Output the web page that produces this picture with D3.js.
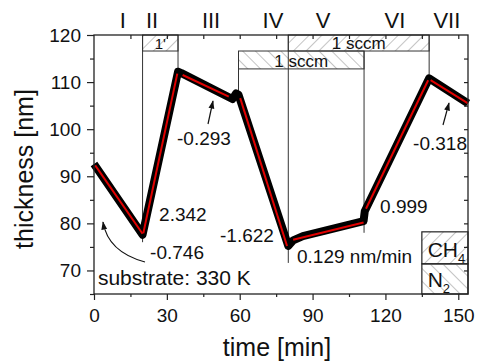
<!DOCTYPE html>
<html lang="en">
<head>
<meta charset="utf-8">
<style>
  body { margin: 0; background: #fff; }
  svg { display: block; font-family: Arial, "Liberation Sans", sans-serif; }
</style>
</head>
<body>
<svg width="481" height="363"></svg>
<script src="https://cdn.jsdelivr.net/npm/d3@7"></script>
<script>
// measured thickness curve, [time min, thickness nm]
var measured = [
  [0, 92.6], [20, 77.6], [34.6, 112.2], [36, 111.9], [57, 106.4], [58.5, 107.6],
  [59.5, 107.3], [80, 75.2], [82, 76.4], [86, 77.3], [111, 80.5], [111.5, 82.6],
  [138, 110.8], [154, 105.5]
]

// linear fits, each [t0, v0, t1, v1]
var fits = [
  [0.5, 92.3, 20, 77.8],
  [20.3, 77.9, 34.3, 111.8],
  [36.5, 111.5, 55.5, 106.9],
  [60.2, 106.6, 79.5, 75.2],
  [82, 76.5, 111, 80.2],
  [112, 83.1, 137.6, 110.4],
  [138.6, 110.4, 154, 105.5]
]
var rates = ['-0.746', '2.342', '-0.293', '-1.622', '0.129 nm/min', '0.999', '-0.318']

var phaseNames = ['I', 'II', 'III', 'IV', 'V', 'VI', 'VII']
var phaseLabelAt = [11.9, 23.9, 48.2, 73.7, 94.3, 123.9, 145.3]
var boundaries = [20, 34.6, 59.5, 80, 111.2, 138]
// how far down each boundary line is drawn, [top nm, bottom nm]
var boundarySpan = [[120, 76], [120, 112.1], [116.6, 107.7], [120, 71.6], [116.6, 78], [120, 110.8]]

// gas flow boxes: [t0, t1, row, label, gas]
var flows = [
  [20, 34.6, 0, "1'", 'CH4'],
  [80, 138, 0, '1 sccm', 'CH4'],
  [59.5, 111.2, 1, '1 sccm', 'N2']
]
var rowEdges = [120, 116.6, 112.8]

var xTicks = [0, 30, 60, 90, 120, 150]
var yTicks = [70, 80, 90, 100, 110, 120]

var svg = d3.select('svg')
var x = d3.scaleLinear().domain([0, 154]).range([94, 468])
var y = d3.scaleLinear().domain([65, 120]).range([294, 35])

var defs = svg.append('defs')
function hatch (id, angle) {
  var p = defs.append('pattern')
    .attr('id', id)
    .attr('patternUnits', 'userSpaceOnUse')
    .attr('width', 9).attr('height', 9)
    .attr('patternTransform', 'rotate(' + angle + ')')
  p.append('line')
    .attr('x1', 0).attr('y1', 0).attr('x2', 0).attr('y2', 9)
    .attr('stroke', '#8a8a8a').attr('stroke-width', 1)
}
hatch('hCH4', 45)
hatch('hN2', -45)
var gasFill = { CH4: 'url(#hCH4)', N2: 'url(#hN2)' }

// flow boxes
var fb = svg.append('g')
flows.forEach(function (f) {
  var y0 = y(rowEdges[f[2]]), y1 = y(rowEdges[f[2] + 1])
  fb.append('rect')
    .attr('x', x(f[0])).attr('y', y0)
    .attr('width', x(f[1]) - x(f[0])).attr('height', y1 - y0)
    .attr('fill', gasFill[f[4]])
    .attr('stroke', '#333').attr('stroke-width', 1)
  fb.append('text')
    .attr('x', (x(f[0]) + x(f[1])) / 2).attr('y', y1 - 2)
    .attr('text-anchor', 'middle')
    .attr('font-size', f[3] === "1'" ? 15 : 17)
    .attr('fill', '#111')
    .text(f[3])
})

// phase boundaries
svg.append('g').selectAll('line')
  .data(boundaries)
  .enter().append('line')
  .attr('x1', function (d) { return x(d) }).attr('x2', function (d) { return x(d) })
  .attr('y1', function (d, i) { return y(boundarySpan[i][0]) })
  .attr('y2', function (d, i) { return y(boundarySpan[i][1]) })
  .attr('stroke', '#333').attr('stroke-width', 1)

// legend boxes
var legend = [['CH4', 78.2, 71.4], ['N2', 71.4, 65]]
legend.forEach(function (l) {
  svg.append('rect')
    .attr('x', x(135)).attr('y', y(l[1]))
    .attr('width', x(154) - x(135)).attr('height', y(l[2]) - y(l[1]))
    .attr('fill', gasFill[l[0]])
    .attr('stroke', '#222').attr('stroke-width', 1.2)
  var t = svg.append('text')
    .attr('x', x(137.4)).attr('y', y(l[2]) - 7)
    .attr('font-size', 21).attr('fill', '#111')
  t.append('tspan').text(l[0].slice(0, l[0].length - 1))
  t.append('tspan').attr('font-size', 13).attr('dy', 6).text(l[0].slice(-1))
})

// data curve + fits
var line = d3.line().x(function (d) { return x(d[0]) }).y(function (d) { return y(d[1]) })
svg.append('path')
  .datum(measured)
  .attr('d', line)
  .attr('fill', 'none').attr('stroke', '#000')
  .attr('stroke-width', 8).attr('stroke-linejoin', 'round')

svg.append('g').selectAll('line')
  .data(fits)
  .enter().append('line')
  .attr('x1', function (d) { return x(d[0]) }).attr('y1', function (d) { return y(d[1]) })
  .attr('x2', function (d) { return x(d[2]) }).attr('y2', function (d) { return y(d[3]) })
  .attr('stroke', '#e00000').attr('stroke-width', 2)

// frame
svg.append('rect')
  .attr('x', x(0)).attr('y', y(120))
  .attr('width', x(154) - x(0)).attr('height', y(65) - y(120))
  .attr('fill', 'none').attr('stroke', '#222').attr('stroke-width', 1.3)

// axes
var bottom = svg.append('g').attr('transform', 'translate(0,' + y(65) + ')')
bottom.call(d3.axisBottom(x).tickValues(d3.range(15, 154, 30)).tickSize(3).tickFormat(''))
bottom.call(function (g) {
  g.append('g').call(d3.axisBottom(x).tickValues(xTicks).tickSize(6).tickPadding(9))
})
var left = svg.append('g').attr('transform', 'translate(' + x(0) + ',0)')
left.call(d3.axisLeft(y).tickValues(d3.range(65, 121, 10)).tickSize(4).tickFormat(''))
left.call(function (g) {
  g.append('g').call(d3.axisLeft(y).tickValues(yTicks).tickSize(7).tickPadding(6))
})
svg.append('g').attr('transform', 'translate(0,' + y(120) + ')')
  .call(d3.axisBottom(x).tickValues(d3.range(15, 154, 15)).tickSize(4).tickFormat(''))
svg.append('g').attr('transform', 'translate(' + x(154) + ',0)')
  .call(d3.axisLeft(y).tickValues(d3.range(70, 120, 5)).tickSize(4).tickFormat(''))

svg.selectAll('.domain').remove()
svg.selectAll('.tick line').attr('stroke', '#222').attr('stroke-width', 1.2)
svg.selectAll('.tick text').attr('font-size', 19).attr('fill', '#111')
  .attr('font-family', 'Arial, "Liberation Sans", sans-serif')

// axis titles
svg.append('text')
  .attr('x', 277).attr('y', 356)
  .attr('text-anchor', 'middle').attr('font-size', 25).attr('fill', '#111')
  .text('time [min]')
svg.append('text')
  .attr('transform', 'translate(33,169) rotate(-90)')
  .attr('text-anchor', 'middle').attr('font-size', 25).attr('fill', '#111')
  .text('thickness [nm]')

// phase labels
svg.append('g').selectAll('text')
  .data(phaseNames)
  .enter().append('text')
  .attr('x', function (d, i) { return x(phaseLabelAt[i]) })
  .attr('y', 28)
  .attr('text-anchor', 'middle').attr('font-size', 22).attr('fill', '#111')
  .text(function (d) { return d })

// rate annotations, [time, nm] of text start
var rateAt = [[23.1, 72.4], [26.8, 80.5], [34.2, 96.6], [51.9, 76.0], [83.6, 71.6], [117.8, 82.2], [131.4, 95.6]]
svg.append('g').selectAll('text')
  .data(rates)
  .enter().append('text')
  .attr('x', function (d, i) { return x(rateAt[i][0]) })
  .attr('y', function (d, i) { return y(rateAt[i][1]) })
  .attr('font-size', 19).attr('fill', '#111')
  .text(function (d) { return d })

svg.append('text')
  .attr('x', x(1.6)).attr('y', y(66.9))
  .attr('font-size', 21).attr('fill', '#111')
  .text('substrate: 330 K')

// arrows
defs.append('marker')
  .attr('id', 'arr').attr('viewBox', '0 0 10 10')
  .attr('refX', 9).attr('refY', 5)
  .attr('markerWidth', 7).attr('markerHeight', 7)
  .attr('orient', 'auto')
  .append('path').attr('d', 'M0,1.5L10,5L0,8.5z').attr('fill', '#111')

svg.append('path')
  .attr('d', 'M145,262 Q108,252 103,222')
  .attr('fill', 'none').attr('stroke', '#111').attr('stroke-width', 1.2)
  .attr('marker-end', 'url(#arr)')
svg.append('line')
  .attr('x1', 208).attr('y1', 124).attr('x2', 213).attr('y2', 101)
  .attr('stroke', '#111').attr('stroke-width', 1.2).attr('marker-end', 'url(#arr)')
svg.append('line')
  .attr('x1', 443).attr('y1', 125).attr('x2', 449).attr('y2', 103)
  .attr('stroke', '#111').attr('stroke-width', 1.2).attr('marker-end', 'url(#arr)')
</script>
</body>
</html>
